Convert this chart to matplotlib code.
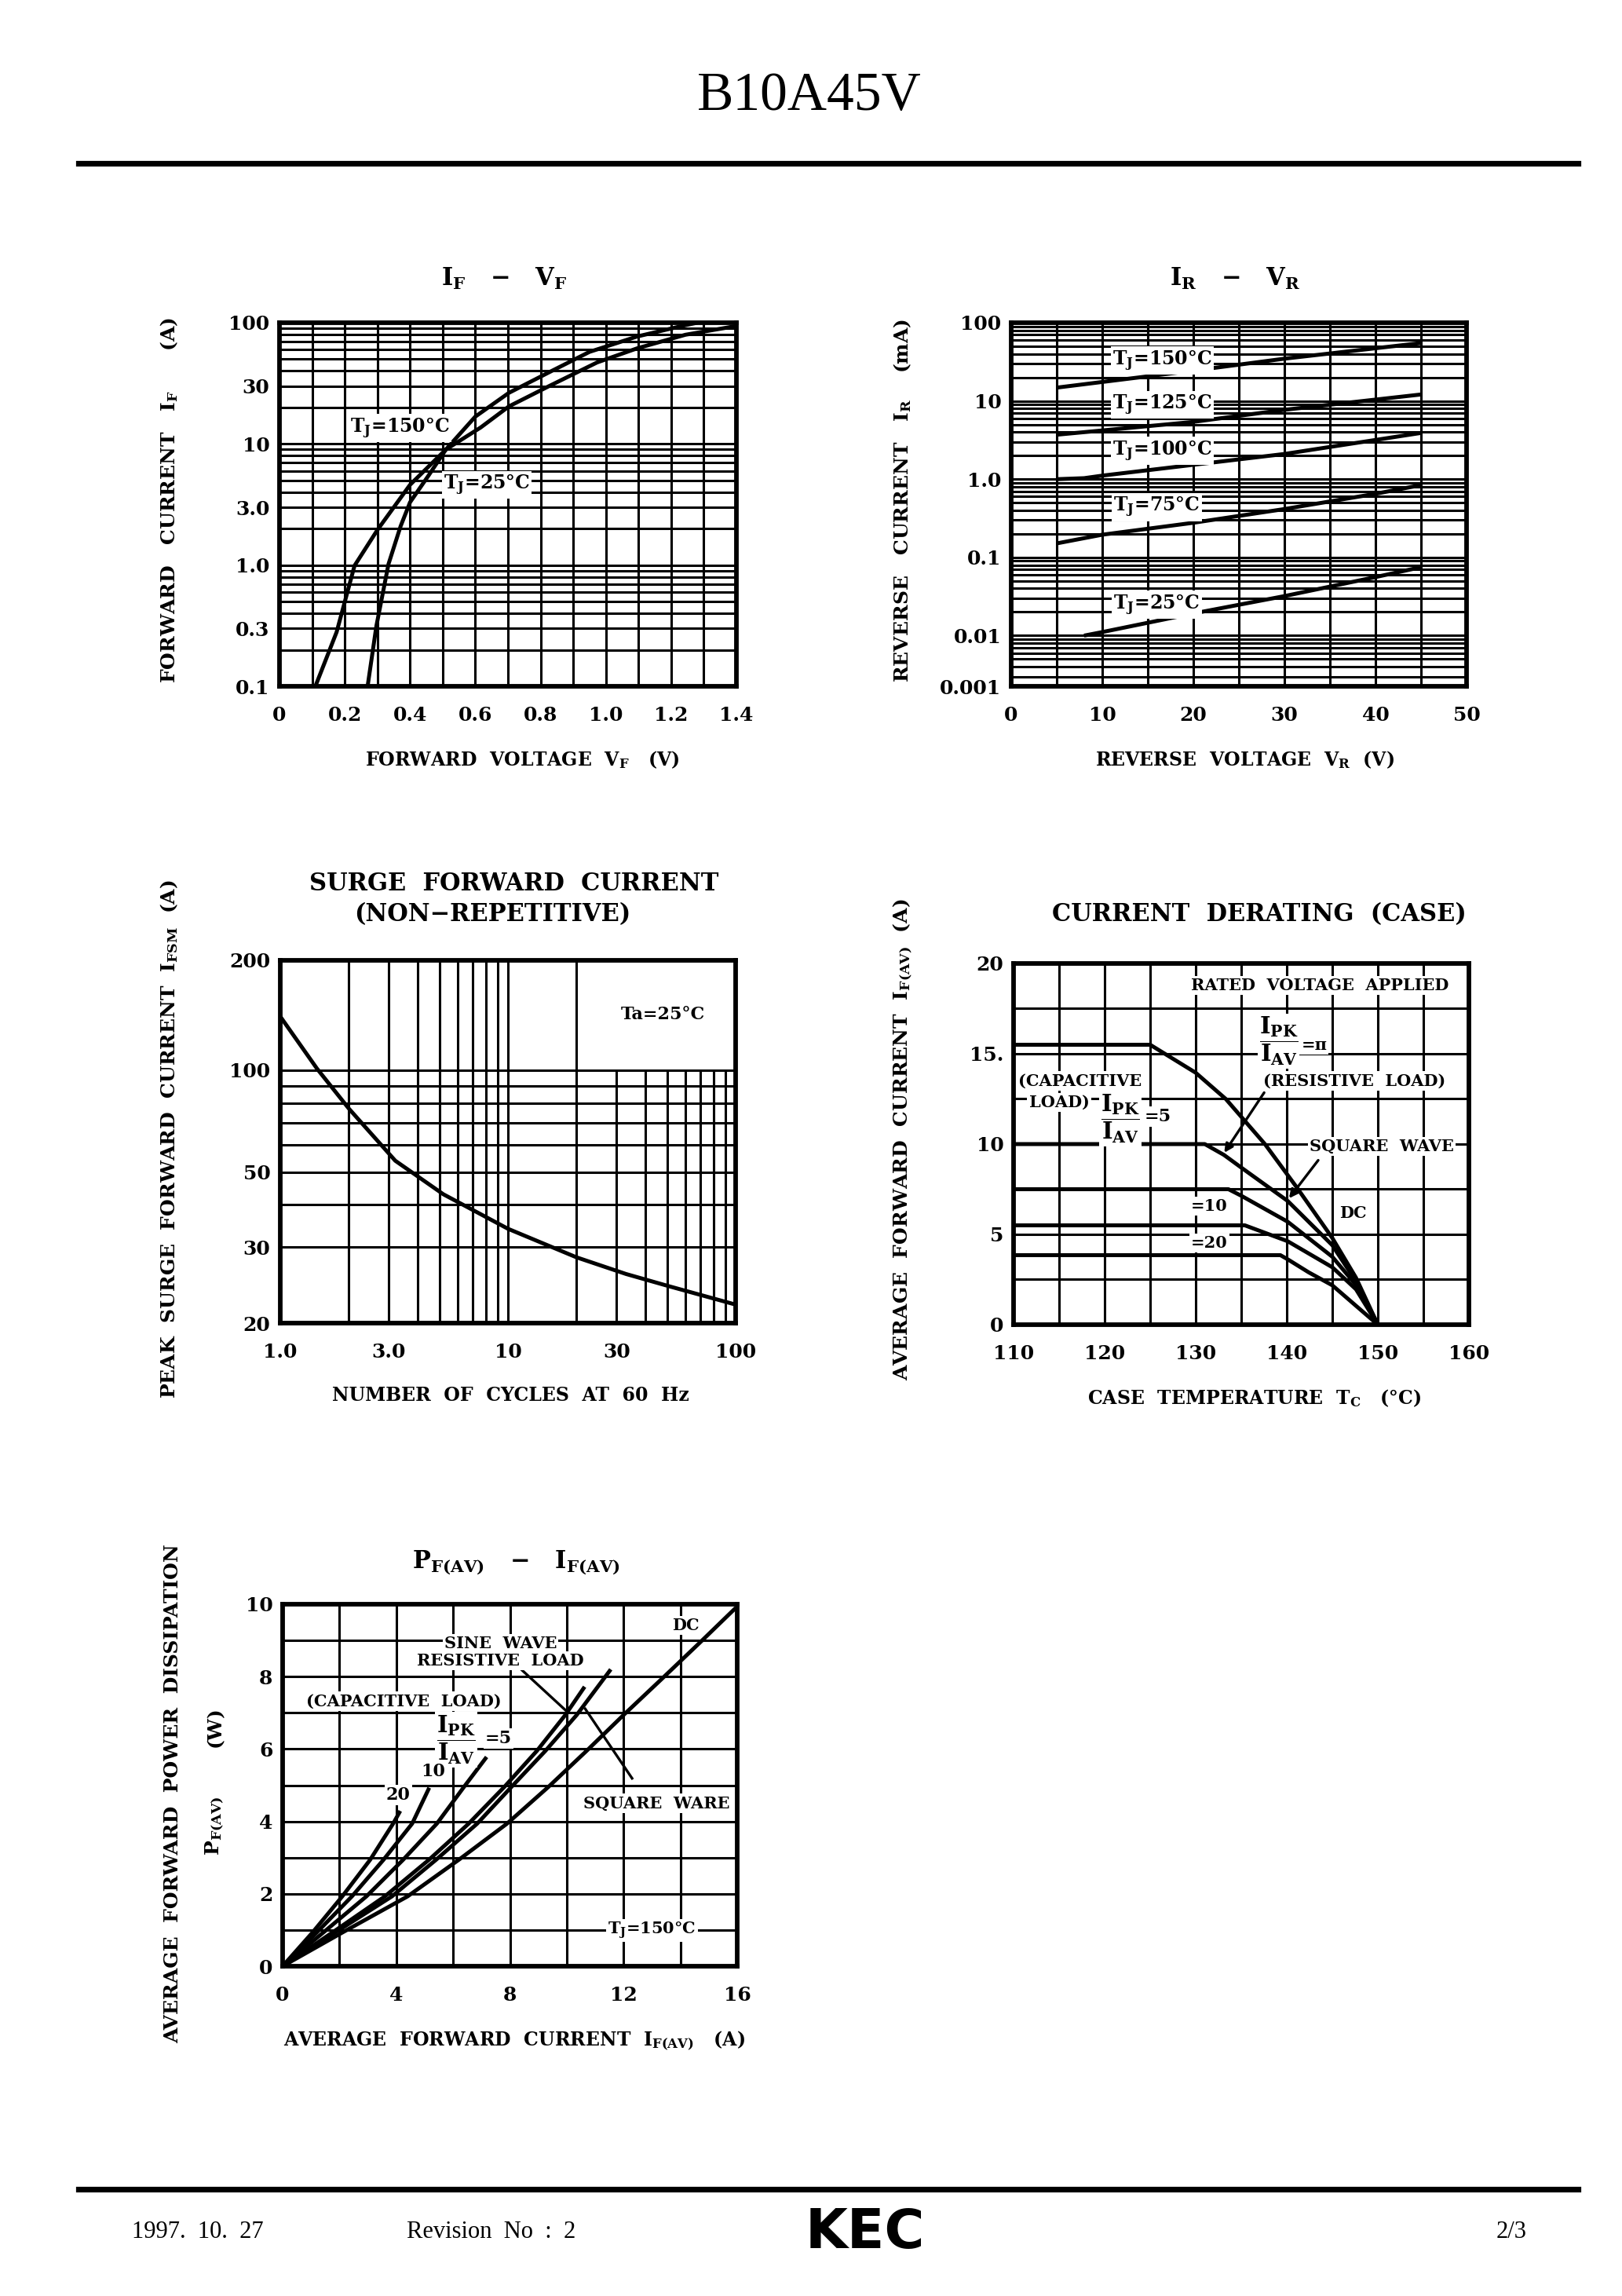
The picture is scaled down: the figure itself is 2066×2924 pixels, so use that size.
import matplotlib
matplotlib.use("Agg")
import matplotlib.pyplot as plt
from matplotlib.lines import Line2D
from matplotlib.ticker import FixedLocator, NullFormatter

plt.rcParams['font.family'] = ['DejaVu Serif']
plt.rcParams['font.weight'] = 'bold'
plt.rcParams['mathtext.fontset'] = 'dejavuserif'
plt.rcParams['mathtext.default'] = 'bf'

W, H = 2066, 2924
GRID_LW = 2.2
SPINE_LW = 4.2
CURVE_LW = 3.6
TICK_FS = 18
LABEL_FS = 18
TITLE_FS = 22

# ---- IF - VF ----
vf_150 = [0.11, 0.175, 0.23, 0.30, 0.40, 0.51, 0.617, 0.703, 0.826, 0.973, 1.096, 1.244, 1.40]
if_150 = [0.1, 0.28, 0.99, 1.95, 4.6, 9.0, 13.7, 20.4, 30, 47, 61.5, 79.6, 94]
vf_25 = [0.27, 0.297, 0.334, 0.371, 0.40, 0.457, 0.51, 0.60, 0.703, 0.826, 0.95, 1.096, 1.244, 1.28]
if_25 = [0.1, 0.316, 1.02, 2.09, 3.3, 5.5, 9.0, 16.8, 26.4, 39, 57.5, 77, 95.5, 100]
ifvf_yticks = [0.1, 0.3, 1, 3, 10, 30, 100]
ifvf_ylabels = ['0.1', '0.3', '1.0', '3.0', '10', '30', '100']
ifvf_xticks = [0, 0.2, 0.4, 0.6, 0.8, 1.0, 1.2, 1.4]

# ---- IR - VR ----
vr_150 = [5, 20, 30, 45]
ir_150 = [14.8, 24.4, 34.7, 55]
vr_125 = [5, 20, 30, 45]
ir_125 = [3.7, 5.4, 7.7, 12.1]
vr_100 = [5, 8, 10, 30, 45]
ir_100 = [1.0, 1.03, 1.11, 2.1, 3.9]
vr_75 = [5, 10, 20, 30, 40, 45]
ir_75 = [0.151, 0.195, 0.277, 0.415, 0.65, 0.84]
vr_25 = [8, 10, 20, 30, 40, 45]
ir_25 = [0.010, 0.0111, 0.0192, 0.032, 0.056, 0.075]
IR_LO = 0.00225   # bottom edge of the printed grid, labelled 0.001 on the sheet
irvr_yticks = [IR_LO, 0.01, 0.1, 1, 10, 100]
irvr_ylabels = ['0.001', '0.01', '0.1', '1.0', '10', '100']

# ---- surge ----
cycles = [1, 1.45, 2, 3.2, 5.2, 10, 20, 33, 51, 100]
ifsm = [144, 101, 77, 54, 43, 34, 28, 25, 23, 20.3]
IFSM_LO, IFSM_HI = 17.9, 211   # printed edges, labelled 20 and 200
surge_yticks = [IFSM_LO, 30, 50, 100, IFSM_HI]
surge_ylabels = ['20', '30', '50', '100', '200']
surge_xticks = [1, 3, 10, 30, 100]
surge_xlabels = ['1.0', '3.0', '10', '30', '100']
surge_vgrid_full = [2, 3, 4, 5, 6, 7, 8, 9, 10, 20]
surge_vgrid_low = [30, 40, 50, 60, 70, 80, 90]
surge_hgrid = [30, 40, 50, 60, 70, 80, 90, 100]

# ---- current derating ----
tc_dc = [110, 125, 130, 133.3, 137.6, 141.1, 145, 147.6, 150]
ifav_dc = [15.5, 15.5, 13.95, 12.5, 10, 7.6, 4.8, 2.6, 0]
tc_sine = [110, 131, 133.1, 135, 140.1, 145, 147.6, 150]
ifav_sine = [10, 10, 9.4, 8.7, 6.85, 4.4, 2.4, 0]
tc_c5 = [110, 133.6, 135, 140.1, 145, 147.6, 150]
ifav_c5 = [7.5, 7.5, 7.14, 5.7, 3.76, 2.2, 0]
tc_c10 = [110, 135.4, 140.1, 145, 147.6, 150]
ifav_c10 = [5.5, 5.5, 4.62, 3.18, 1.96, 0]
tc_c20 = [110, 139.3, 140.1, 142.4, 145, 150]
ifav_c20 = [3.85, 3.85, 3.62, 2.9, 2.18, 0]

# ---- PF(AV) - IF(AV) ----
iav_dc = [0, 2.1, 4.4, 6.2, 7.9, 9.35, 10.7, 12.0, 13.35, 14.7, 15.95]
pf_dc = [0, 0.93, 1.93, 2.94, 3.94, 4.95, 5.95, 6.94, 7.94, 8.95, 9.9]
iav_sq = [0, 1.85, 3.85, 5.4, 6.85, 8.05, 9.25, 10.35, 11.55]
pf_sq = [0, 0.93, 1.93, 2.94, 3.94, 4.95, 5.95, 6.94, 8.2]
iav_sine = [0, 1.75, 3.6, 5.15, 6.55, 7.8, 8.95, 9.95, 10.63]
pf_sine = [0, 0.93, 1.93, 2.94, 3.94, 4.95, 5.95, 6.94, 7.72]
iav_c5 = [0, 1.43, 2.95, 4.24, 5.43, 6.38, 7.18]
pf_c5 = [0, 0.93, 1.93, 2.94, 3.94, 4.95, 5.78]
iav_c10 = [0, 1.2, 2.44, 3.55, 4.56, 5.16]
pf_c10 = [0, 0.93, 1.93, 2.94, 3.94, 4.93]
iav_c20 = [0, 1.05, 2.1, 3.08, 3.89, 4.14]
pf_c20 = [0, 0.93, 1.93, 2.94, 3.94, 4.29]

fig = plt.figure(figsize=(W / 100, H / 100), dpi=100)


def add_ax(left, right, top, bottom):
    ax = fig.add_axes([left / W, 1 - bottom / H, (right - left) / W, (bottom - top) / H])
    for s in ax.spines.values():
        s.set_linewidth(SPINE_LW)
        s.set_zorder(6)
    ax.tick_params(which='both', length=0, labelsize=TICK_FS)
    ax.tick_params(axis='x', pad=18)
    ax.tick_params(axis='y', pad=9)
    ax.set_axisbelow(True)
    return ax


def ftext(px, py, s, **kw):
    kw.setdefault('ha', 'center')
    kw.setdefault('va', 'center')
    fig.text(px / W, 1 - py / H, s, **kw)


def note(ax, x, y, s, fs=17, **kw):
    kw.setdefault('ha', 'center')
    ax.text(x, y, s, va='center', fontsize=fs, zorder=5,
            bbox=dict(fc='white', ec='none', pad=1.5), **kw)


def curve(ax, x, y):
    ax.plot(x, y, color='black', lw=CURVE_LW, solid_capstyle='butt', zorder=3)


FRAC = r'$\dfrac{I_{PK}}{I_{AV}}$'

# page header / footer
ftext(1031, 123, 'B10A45V', family='Liberation Serif', weight='normal', fontsize=50)
fig.add_artist(Line2D([100 / W, 2010 / W], [1 - 207.5 / H] * 2, color='black', lw=5.2))
fig.add_artist(Line2D([100 / W, 2010 / W], [1 - 2787.5 / H] * 2, color='black', lw=5.2))
ftext(168, 2843, '1997.  10.  27', ha='left', family='Liberation Serif', weight='normal', fontsize=22)
ftext(518, 2843, 'Revision  No  :  2', ha='left', family='Liberation Serif', weight='normal', fontsize=22)
ftext(1102, 2843, 'KEC', family='DejaVu Sans', weight='heavy', fontsize=50)
ftext(1906, 2843, '2/3', ha='left', family='Liberation Serif', weight='normal', fontsize=22)

# ---- chart 1 ----
ax1 = add_ax(356, 938, 411, 874)
ax1.set_yscale('log')
ax1.set_xlim(0, 1.4)
ax1.set_ylim(0.1, 100)
ax1.set_xticks(ifvf_xticks, ['0' if v == 0 else f'{v:.1f}' for v in ifvf_xticks])
ax1.xaxis.set_minor_locator(FixedLocator([0.1, 0.3, 0.5, 0.7, 0.9, 1.1, 1.3]))
ax1.set_yticks(ifvf_yticks, ifvf_ylabels)
ax1.yaxis.set_minor_locator(FixedLocator([m * d for d in (0.1, 1, 10) for m in (2, 4, 5, 6, 7, 8, 9)]))
ax1.yaxis.set_minor_formatter(NullFormatter())
ax1.grid(True, which='both', color='black', lw=GRID_LW)
curve(ax1, vf_150, if_150)
curve(ax1, vf_25, if_25)
note(ax1, 0.37, 13.5, r'T$_J$=150°C')
note(ax1, 0.635, 4.6, r'T$_J$=25°C')
ftext(642, 355, r'I$_F$   −   V$_F$', fontsize=TITLE_FS)
ftext(665, 968, r'FORWARD  VOLTAGE  V$_F$   (V)', fontsize=17)
ftext(216, 637, r'FORWARD   CURRENT   I$_F$      (A)', fontsize=LABEL_FS, rotation=90)

# ---- chart 2 ----
ax2 = add_ax(1288, 1868, 411, 874)
ax2.set_yscale('log')
ax2.set_xlim(0, 50)
ax2.set_ylim(IR_LO, 100)
ax2.set_xticks([0, 10, 20, 30, 40, 50])
ax2.xaxis.set_minor_locator(FixedLocator([5, 15, 25, 35, 45]))
ax2.set_yticks(irvr_yticks, irvr_ylabels)
ax2.yaxis.set_minor_locator(FixedLocator([m * d for d in (0.001, 0.01, 0.1, 1, 10) for m in range(2, 10)
                                          if m * d > IR_LO]))
ax2.yaxis.set_minor_formatter(NullFormatter())
ax2.grid(True, which='both', color='black', lw=GRID_LW)
for vx, iy in [(vr_150, ir_150), (vr_125, ir_125), (vr_100, ir_100), (vr_75, ir_75), (vr_25, ir_25)]:
    curve(ax2, vx, iy)
note(ax2, 16.6, 33, r'T$_J$=150°C')
note(ax2, 16.6, 8.9, r'T$_J$=125°C')
note(ax2, 16.6, 2.3, r'T$_J$=100°C')
note(ax2, 16.0, 0.44, r'T$_J$=75°C')
note(ax2, 16.0, 0.025, r'T$_J$=25°C')
ftext(1573, 355, r'I$_R$   −   V$_R$', fontsize=TITLE_FS)
ftext(1585, 968, r'REVERSE  VOLTAGE  V$_R$  (V)', fontsize=17)
ftext(1150, 637, r'REVERSE   CURRENT   I$_R$    (mA)', fontsize=LABEL_FS, rotation=90)

# ---- chart 3 ----
ax3 = add_ax(357, 937, 1223, 1685)
ax3.set_xscale('log')
ax3.set_yscale('log')
ax3.set_xlim(1, 100)
ax3.set_ylim(IFSM_LO, IFSM_HI)
ax3.set_xticks(surge_xticks, surge_xlabels)
ax3.xaxis.set_minor_locator(FixedLocator([]))
ax3.set_yticks(surge_yticks, surge_ylabels)
ax3.yaxis.set_minor_locator(FixedLocator([]))
ax3.vlines(surge_vgrid_full, IFSM_LO, IFSM_HI, color='black', lw=GRID_LW, zorder=1)
ax3.vlines(surge_vgrid_low, IFSM_LO, 100, color='black', lw=GRID_LW, zorder=1)
ax3.hlines(surge_hgrid, 1, 100, color='black', lw=GRID_LW, zorder=1)
curve(ax3, cycles, ifsm)
ax3.text(48, 146, 'Ta=25°C', ha='center', va='center', fontsize=16)
ftext(655, 1125, 'SURGE  FORWARD  CURRENT', fontsize=TITLE_FS)
ftext(627, 1165, '(NON−REPETITIVE)', fontsize=TITLE_FS)
ftext(650, 1777, 'NUMBER  OF  CYCLES  AT  60  Hz', fontsize=17)
ftext(216, 1451, r'PEAK  SURGE  FORWARD  CURRENT  I$_{FSM}$  (A)', fontsize=LABEL_FS, rotation=90)

# ---- chart 4 ----
ax4 = add_ax(1291, 1871, 1227, 1687)
ax4.set_xlim(110, 160)
ax4.set_ylim(0, 20)
ax4.set_xticks([110, 120, 130, 140, 150, 160])
ax4.xaxis.set_minor_locator(FixedLocator([115, 125, 135, 145, 155]))
ax4.set_yticks([0, 5, 10, 15, 20], ['0', '5', '10', '15.', '20'])
ax4.yaxis.set_minor_locator(FixedLocator([2.5, 7.5, 12.5, 17.5]))
ax4.grid(True, which='both', color='black', lw=GRID_LW)
for tx, iy in [(tc_dc, ifav_dc), (tc_sine, ifav_sine), (tc_c5, ifav_c5), (tc_c10, ifav_c10), (tc_c20, ifav_c20)]:
    curve(ax4, tx, iy)
note(ax4, 143.6, 18.78, 'RATED  VOLTAGE  APPLIED', fs=15)
note(ax4, 139.1, 15.7, FRAC, fs=21)
note(ax4, 143.0, 15.47, '=π', fs=15)
note(ax4, 147.4, 13.5, '(RESISTIVE  LOAD)', fs=15)
note(ax4, 117.3, 13.5, '(CAPACITIVE', fs=15)
note(ax4, 115.0, 12.3, 'LOAD)', fs=15)
note(ax4, 121.75, 11.4, FRAC, fs=21)
note(ax4, 125.8, 11.5, '=5', fs=16)
note(ax4, 150.4, 9.86, 'SQUARE  WAVE', fs=15)
note(ax4, 147.25, 6.19, 'DC', fs=15)
note(ax4, 131.5, 6.55, '=10', fs=15)
note(ax4, 131.5, 4.53, '=20', fs=15)
arrow = dict(arrowstyle='-|>', lw=2.4, color='black', mutation_scale=16)
ax4.annotate('', xy=(133.0, 9.42), xytext=(137.65, 12.95), arrowprops=arrow, zorder=4)
ax4.annotate('', xy=(140.1, 6.9), xytext=(143.6, 9.2), arrowprops=arrow, zorder=4)
ftext(1604, 1165, 'CURRENT  DERATING  (CASE)', fontsize=TITLE_FS)
ftext(1598, 1781, r'CASE  TEMPERATURE  T$_C$   (°C)', fontsize=17)
ftext(1150, 1451, r'AVERAGE  FORWARD  CURRENT  I$_{F(AV)}$  (A)', fontsize=LABEL_FS, rotation=90)

# ---- chart 5 ----
ax5 = add_ax(360, 939, 2043, 2504)
ax5.set_xlim(0, 16)
ax5.set_ylim(0, 10)
ax5.set_xticks([0, 4, 8, 12, 16])
ax5.xaxis.set_minor_locator(FixedLocator([2, 6, 10, 14]))
ax5.set_yticks([0, 2, 4, 6, 8, 10])
ax5.yaxis.set_minor_locator(FixedLocator([1, 3, 5, 7, 9]))
ax5.grid(True, which='both', color='black', lw=GRID_LW)
for ix, py in [(iav_dc, pf_dc), (iav_sq, pf_sq), (iav_sine, pf_sine), (iav_c5, pf_c5), (iav_c10, pf_c10), (iav_c20, pf_c20)]:
    curve(ax5, ix, py)
note(ax5, 14.2, 9.42, 'DC', fs=15)
note(ax5, 7.67, 8.91, 'SINE  WAVE', fs=15)
note(ax5, 7.67, 8.44, 'RESISTIVE  LOAD', fs=15)
note(ax5, 4.26, 7.32, '(CAPACITIVE  LOAD)', fs=15)
note(ax5, 6.1, 6.25, FRAC, fs=21)
note(ax5, 7.6, 6.3, '=5', fs=16)
note(ax5, 5.29, 5.37, '10', fs=16)
note(ax5, 4.07, 4.72, '20', fs=16)
note(ax5, 13.15, 4.5, 'SQUARE  WARE', fs=15)
note(ax5, 13.0, 0.99, r'T$_J$=150°C', fs=15)
ax5.plot([8.41, 9.96], [8.19, 7.07], color='black', lw=2.4, zorder=4)
ax5.plot([12.3, 10.65], [5.19, 7.11], color='black', lw=2.4, zorder=4)
ftext(657, 1990, r'P$_{F(AV)}$   −   I$_{F(AV)}$', fontsize=TITLE_FS)
ftext(655, 2599, r'AVERAGE  FORWARD  CURRENT  I$_{F(AV)}$   (A)', fontsize=17)
ftext(220, 2284, 'AVERAGE  FORWARD  POWER  DISSIPATION', fontsize=LABEL_FS, rotation=90)
ftext(274, 2199, '(W)', fontsize=LABEL_FS, rotation=90)
ftext(274, 2325, r'P$_{F(AV)}$', fontsize=LABEL_FS, rotation=90)

fig.savefig('out.png', dpi=100)
